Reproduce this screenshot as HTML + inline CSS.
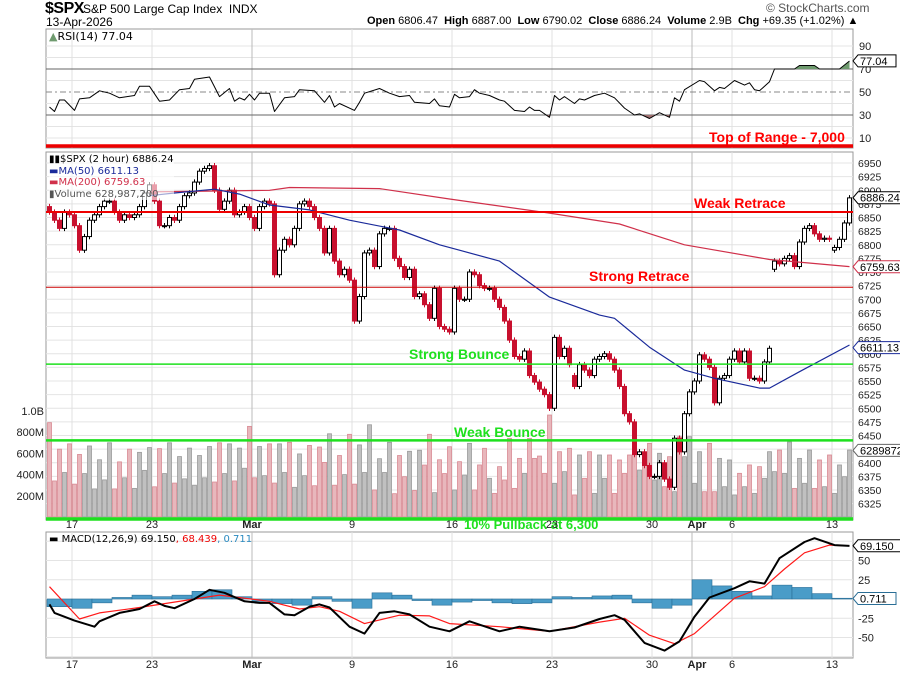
<!DOCTYPE html>
<html><head><meta charset="utf-8"><style>
html,body{margin:0;padding:0;background:#fff;}
svg{display:block;font-family:"DejaVu Sans","Liberation Sans",sans-serif;}
</style></head><body>
<svg id="chart" width="900" height="673" viewBox="0 0 900 673">
<g id="bg"></g>
<g id="grid"></g>
<g id="vol"></g>
<g id="candles"></g>
<g id="lines"></g>
<g id="ann"></g>
<g id="txt"></g>
</svg>
<script>
// ---------- DATA ----------
const closes = [6860,6845,6830,6860,6855,
6835,6790,6815,6845, 6855,6870,6880,6880, 6860,6845,6855,6850, 6855,6870,6895,6910,
6880,6835,6835,6850, 6845,6870,6890,6895, 6915,6935,6940,6945, 6900,6865,6880,6900, 6855,6860,6870,6850,
6830,6870,6880,6875, 6745,6790,6810,6800, 6830,6875,6880,6870, 6850,6830,6785,6830, 6770,6745,6755,6735,
6660,6705,6785,6790, 6760,6820,6830,6830, 6775,6760,6740,6755, 6705,6710,6690,6665, 6720,6650,6645,6640,
6720,6700,6700,6750, 6745,6725,6720,6720, 6700,6685,6660,6625, 6595,6590,6605,6560, 6548,6535,6525,6500,
6630,6595,6610,6580, 6540,6580,6570,6560, 6590,6595,6600,6590, 6570,6540,6490,6475, 6415,6420,6395,6375,
6375,6400,6370,6355, 6445,6420,6490,6530, 6550,6598,6590,6575, 6510,6555,6560,6590,
6605,6585,6605,6555, 6555,6550,6585,6610, 6770,6765,6775,6780, 6760,6805,6830,6835, 6820,6810,6812,6810,
6795,6810,6840,6886];
const firstOpen = 6870;
// gap opens: bar index / open price
const gapIdx = [145, 105, 157];
const gapOpen = [6755, 6560, 6790];
const volumes = [890,340,640,420,690,310,590,410,670,265,540,350,700,265,520,370,640,270,610,440,
655,285,645,410,700,320,570,360,650,300,580,370,665,330,700,410,690,340,650,460,
855,370,665,390,690,320,690,420,705,280,595,390,675,295,660,515,785,300,580,400,
780,310,680,420,870,255,550,420,705,220,580,380,620,250,630,490,780,230,540,410,
663,255,522,396,695,255,491,648,365,223,475,349,742,270,553,412,742,553,575,412,
962,318,616,428,648,208,585,365,616,223,585,365,585,223,538,412,585,789,443,616,
695,349,601,286,569,239,758,569,758,318,616,239,695,239,553,286,538,208,412,286,
491,223,475,365,616,428,632,412,708,270,553,318,632,270,538,286,585,223,491,380,632];
const ma50Idx = [20,25,33,38,44,52,60,70,78,82,90,100,110,113,120,127,133,142,144,150,160];
const ma50Val = [6890,6895,6902,6893,6873,6864,6845,6827,6800,6790,6770,6704,6671,6665,6612,6570,6555,6537,6537,6567,6616];
const ma200Idx = [20,44,48,66,80,100,114,127,144,160];
const ma200Val = [6897,6900,6905,6903,6884,6858,6838,6800,6773,6760];
const rsiIdx = [0,1,2,3,5,6,8,10,12,14,17,18,20,22,24,26,28,29,32,34,36,37,38,39,40,41,42,44,45,47,49,50,53,55,56,57,58,61,62,63,66,68,70,72,73,76,77,78,80,81,82,84,85,86,88,90,91,93,95,96,97,98,100,101,102,103,105,106,107,109,111,113,115,117,118,120,122,124,125,126,127,130,131,133,134,135,137,139,140,141,142,144,145,148,149,150,153,154,158,160];
const rsiVal = [37,33,43,43,34,44,45,51,49,45,47,55,55,42,43,52,53,61,63,46,53,42,45,43,48,43,49,49,33,45,46,52,51,41,47,37,40,34,41,49,53,49,46,47,41,40,44,38,37,48,45,46,52,49,47,43,42,34,33,37,34,34,28,47,43,46,40,44,43,47,49,45,36,30,31,27,32,28,45,42,52,60,59,51,54,53,60,56,58,52,51,59,70,70,70,73,73,70,70,77];
const macdIdx = [0,1,5,9,10,14,18,21,23,25,29,32,35,39,42,44,47,49,52,54,56,60,63,66,69,72,76,80,84,90,94,100,105,110,113,115,119,123,126,129,132,137,140,143,146,151,153,157,160];
const macdVal = [-7,-18,-28,-36,-29,-18,-13,-3,-9,-12,0,12,8,-3,-5,-5,-20,-21,-10,-7,-11,-36,-45,-18,-16,-20,-36,-42,-29,-42,-36,-42,-37,-26,-21,-27,-57,-67,-55,-23,2,14,23,20,53,74,79,70,69];
const sigIdx = [0,6,10,18,29,34,39,44,50,54,58,63,70,76,80,90,100,110,115,120,125,129,137,143,147,151,156,160];
const sigVal = [16,-26,-18,-11,0,5,1,-3,-13,-10,-16,-32,-21,-22,-32,-36,-42,-30,-25,-47,-58,-45,1,16,39,60,70,69];
// histogram per trading day (first entry = Feb 13 partial, 5 bars)
const histVal = [-10,-12,-5,2,5,3,5,10,12,3,-3,-6,-8,3,-3,-12,8,5,-2,-8,-4,-2,-5,-6,-5,3,2,4,5,-5,-12,-8,25,17,10,4,18,15,7,1];
const dateTicks = ["17","23","Mar","9","16","23","30","Apr","6","13"];
const tickDayIdx = [1,5,10,15,20,25,30,32,34,39];
const priceTicks = [6950,6925,6900,6875,6850,6825,6800,6775,6750,6725,6700,6675,6650,6625,6600,6575,6550,6525,6500,6475,6450,6425,6400,6375,6350,6325];
const volTicks = [200,400,600,800,1000];
const volTickLabels = ["200M","400M","600M","800M","1.0B"];
const rsiTicks = [90,70,50,30,10];
const macdTicks = [50,25,-25,-50];

// ---------- SCALES ----------
const X0 = 47, BW = 5;
const bx = i => X0 + 2.5 + BW*i;
const dayStartBar = d => d===0 ? 0 : 5 + (d-1)*4;
const dayX = d => X0 + BW*dayStartBar(d);
const py = p => 163 + (6950 - p)*0.545;
const vy = v => 517 - v*0.106;
const ry = v => 92 - (v-50)*1.15;
const my = v => 599 - v*0.77;
const NS = "http://www.w3.org/2000/svg";
function mk(parent, tag, attrs){const e=document.createElementNS(NS,tag);for(const k in attrs)e.setAttribute(k,attrs[k]);document.getElementById(parent).appendChild(e);return e;}

let e;
e=mk('bg','rect',{x:46,y:29,width:807,height:119,fill:'#fff',stroke:'#999'});


e=mk('bg','rect',{x:46,y:152,width:807,height:368,fill:'#fff',stroke:'#999'});


e=mk('bg','rect',{x:46,y:532,width:807,height:126,fill:'#fff',stroke:'#999'});



for(let v=10; v<=90; v+=10){ if(v===30||v===50||v===70) continue;
  e=mk('grid','line',{x1:46,x2:853,y1:ry(v),y2:ry(v),stroke:'#e4e4e4'});
  
  }
priceTicks.forEach(p=>{e=mk('grid','line',{x1:46,x2:853,y1:py(p),y2:py(p),stroke:'#e4e4e4'});
  
  });
[75,50,25,0,-25,-50,-75].forEach(v=>{e=mk('grid','line',{x1:46,x2:853,y1:my(v),y2:my(v),stroke:'#e4e4e4'});
  
  });
tickDayIdx.forEach((d,k)=>{const x=dayX(d); const strong=(dateTicks[k]==='Mar'||dateTicks[k]==='Apr');
  [[29,148],[152,520],[532,658]].forEach(r=>{e=mk('grid','line',{x1:x,x2:x,y1:r[0],y2:r[1],stroke:strong?'#bbb':'#e0e0e0'});
  
  });});
[70,30].forEach(v=>{e=mk('grid','line',{x1:46,x2:853,y1:ry(v),y2:ry(v),stroke:'#666'});
  
  });
e=mk('grid','line',{x1:46,x2:853,y1:ry(50),y2:ry(50),stroke:'#888','stroke-dasharray':'6,3,2,3'});



// ---------- VOLUME ----------
const opens = closes.map((c,i)=> i===0?firstOpen:closes[i-1]);
gapIdx.forEach((ix,k)=>{opens[ix]=gapOpen[k];});
volumes.forEach((v,i)=>{const up=closes[i]>=opens[i];
  e=mk('vol','rect',{x:bx(i)-2,y:vy(v),width:4,height:517-vy(v),fill:up?'#c0c0c0':'#e8b7bc',stroke:up?'#9a9a9a':'#d98a93','stroke-width':0.8});
  
  });

// ---------- CANDLES ----------
const WICK = 5;
closes.forEach((c,i)=>{const o=opens[i];const up=c>=o;const x=bx(i);
  const hi=Math.max(o,c)+WICK, lo=Math.min(o,c)-WICK;
  e=mk('candles','line',{x1:x,x2:x,y1:py(hi),y2:py(lo),stroke:up?'#000':'#c8102e','stroke-width':1});
  
  
  const top=py(Math.max(o,c)), h=Math.max(1,Math.abs(py(o)-py(c)));
  e=mk('candles','rect',{x:x-2,y:top,width:4,height:h,fill:up?'#fff':'#c8102e',stroke:up?'#000':'#c8102e','stroke-width':1});
  
  });

function poly(idx,val,fy,color,w){const pts=idx.map((ix,k)=>bx(ix)+','+fy(val[k]).toFixed(1)).join(' ');
  return mk('lines','polyline',{points:pts,fill:'none',stroke:color,'stroke-width':w,'stroke-linejoin':'round'});}
e=poly(ma200Idx,ma200Val,py,'#d0304a',1.2);


e=poly(ma50Idx,ma50Val,py,'#1a2a9a',1.2);



// ---------- RSI ----------
const rsiPts = rsiIdx.map((ix,k)=>[bx(ix),ry(rsiVal[k])]);
const defs = mk('lines','defs',{});
defs.innerHTML='<clipPath id="above70"><rect x="46" y="29" width="807" height="'+(ry(70)-29)+'"/></clipPath><clipPath id="below30"><rect x="46" y="'+ry(30)+'" width="807" height="40"/></clipPath>';
const fillPts = rsiPts.map(p=>p.join(',')).join(' ');
e=mk('lines','polygon',{points:bx(rsiIdx[0])+','+ry(70)+' '+fillPts+' '+bx(rsiIdx[rsiIdx.length-1])+','+ry(70),fill:'#6e9a6e','clip-path':'url(#above70)'});


e=mk('lines','polygon',{points:bx(rsiIdx[0])+','+ry(30)+' '+fillPts+' '+bx(rsiIdx[rsiIdx.length-1])+','+ry(30),fill:'#a07070','clip-path':'url(#below30)'});


e=poly(rsiIdx,rsiVal,ry,'#000',1);



// ---------- MACD ----------
histVal.forEach((v,d)=>{const x1=dayX(d), x2=(d===0?dayX(1):dayX(d)+20);
  const y0=my(0), y1=my(v);
  e=mk('lines','rect',{x:x1,y:Math.min(y0,y1),width:x2-x1,height:Math.max(0.8,Math.abs(y1-y0)),fill:'#4a9cc8',stroke:'#2a6e96','stroke-width':0.6});
  
  });
e=poly(sigIdx,sigVal,my,'#ff1a1a',1.2);


e=poly(macdIdx,macdVal,my,'#000',2);



// ---------- ANNOTATION LINES ----------
function hline(y,color,w){return mk('ann','line',{x1:46,x2:853,y1:y,y2:y,stroke:color,'stroke-width':w});}
e=hline(146,'#e00',3.5);


e=hline(py(6860),'#e00',2);


e=hline(py(6722),'#c00',1);


e=hline(py(6581),'#1ee01e',1.5);


e=hline(py(6441),'#1ee01e',2.5);


e=hline(519,'#1ee01e',3.5);



function txt(x,y,s,attrs){const el=mk('txt','text',Object.assign({x:x,y:y,'font-size':10,fill:'#000'},attrs||{}));el.textContent=s;return el;}
const bold={'font-family':'Liberation Sans, sans-serif','font-weight':'bold','font-size':14};
e=txt(709,142,'Top of Range - 7,000',Object.assign({fill:'#f00'},bold));


e=txt(694,208,'Weak Retrace',Object.assign({fill:'#f00'},bold));


e=txt(589,281,'Strong Retrace',Object.assign({fill:'#f00'},bold));


e=txt(409,359,'Strong Bounce',Object.assign({fill:'#1ee01e'},bold));


e=txt(454,437,'Weak Bounce',Object.assign({fill:'#1ee01e'},bold));


e=txt(464,529,'10% Pullback at 6,300',Object.assign({fill:'#1ee01e'},bold,{'font-size':13}));



// ---------- AXIS LABELS ----------
const axF={'font-family':'Liberation Sans, sans-serif','font-size':11,fill:'#222'};
rsiTicks.forEach(v=>{e=txt(859,ry(v)+4,String(v),axF);
  
  });
priceTicks.forEach(p=>{e=txt(858,py(p)+4,String(p),Object.assign({},axF,{'font-size':10.5}));
  
  });
volTicks.forEach((v,k)=>{e=txt(44,vy(v)+4,volTickLabels[k],Object.assign({},axF,{'text-anchor':'end'}));
  
  });
macdTicks.forEach(v=>{e=txt(858,my(v)+4,String(v),axF);
  
  });
tickDayIdx.forEach((d,k)=>{const strong=(dateTicks[k]==='Mar'||dateTicks[k]==='Apr');
  const x = dateTicks[k]==='Apr'? dayX(d)+5 : dayX(d);
  [528,668].forEach(y=>{e=txt(x,y,dateTicks[k],Object.assign({},axF,{'text-anchor':'middle','font-weight':strong?'bold':'normal'}));
  
  });});

function vbox(y,s,color){const g=mk('txt','g',{});
  const w=s.length*6.4+6;
  const p=document.createElementNS(NS,'path');p.setAttribute('d',`M853,${y} L858,${y-6} L${858+w},${y-6} L${858+w},${y+6} L858,${y+6} Z`);
  p.setAttribute('fill','#fff');p.setAttribute('stroke',color);g.appendChild(p);
  const t=document.createElementNS(NS,'text');t.setAttribute('x',860);t.setAttribute('y',y+4);t.setAttribute('font-size',11);
  t.setAttribute('font-family','Liberation Sans, sans-serif');t.setAttribute('fill','#000');t.textContent=s;g.appendChild(t);return g;}
e=vbox(ry(77.04),'77.04','#000');


e=vbox(py(6886.24),'6886.24','#000');


e=vbox(py(6759.63),'6759.63','#d0304a');


e=vbox(py(6611.13),'6611.13','#1a2a9a');


e=vbox(vy(629),'6289872','#666');


e=vbox(my(69.15),'69.150','#000');


e=vbox(my(0.711),'0.711','#2a6e96');


</script>
<div style="position:absolute;left:0;top:0;width:900px;height:30px;font-family:'Liberation Sans',sans-serif;pointer-events:none">
  <span style="position:absolute;left:45px;top:0;font-size:16px;font-weight:bold;letter-spacing:-0.5px;">$SPX</span>
  <span style="position:absolute;left:83px;top:2px;font-size:12px;">S&amp;P 500 Large Cap Index&nbsp; INDX</span>
  <span style="position:absolute;left:46px;top:15px;font-size:12px;">13-Apr-2026</span>
  <span style="position:absolute;left:766px;top:1px;font-size:12px;color:#555;">© StockCharts.com</span>
  <span style="position:absolute;left:367px;top:15px;font-size:11px;white-space:nowrap;"><b>Open</b> 6806.47 &nbsp;<b>High</b> 6887.00 &nbsp;<b>Low</b> 6790.02 &nbsp;<b>Close</b> 6886.24 &nbsp;<b>Volume</b> 2.9B &nbsp;<b>Chg</b> +69.35 (+1.02%) ▲</span>
  <span style="position:absolute;left:49px;top:30px;font-size:11px;font-family:'DejaVu Sans',sans-serif;"><span style="color:#6e9a6e">▲</span>RSI(14) 77.04</span>
</div>
<div style="position:absolute;left:49px;top:154px;font-family:'DejaVu Sans',sans-serif;font-size:10px;line-height:11.5px;pointer-events:none;background:rgba(255,255,255,0.6)">
  <div>▮▮$SPX (2 hour) 6886.24</div>
  <div style="color:#1a2a9a">▬MA(50) 6611.13</div>
  <div style="color:#d0304a">▬MA(200) 6759.63</div>
  <div style="color:#555">▮Volume 628,987,200</div>
</div>
<div style="position:absolute;left:49px;top:534px;font-family:'DejaVu Sans',sans-serif;font-size:10px;pointer-events:none">▬ MACD(12,26,9) 69.150<span style="color:#e00">, 68.439</span><span style="color:#2a8ac0">, 0.711</span></div>
</body></html>
